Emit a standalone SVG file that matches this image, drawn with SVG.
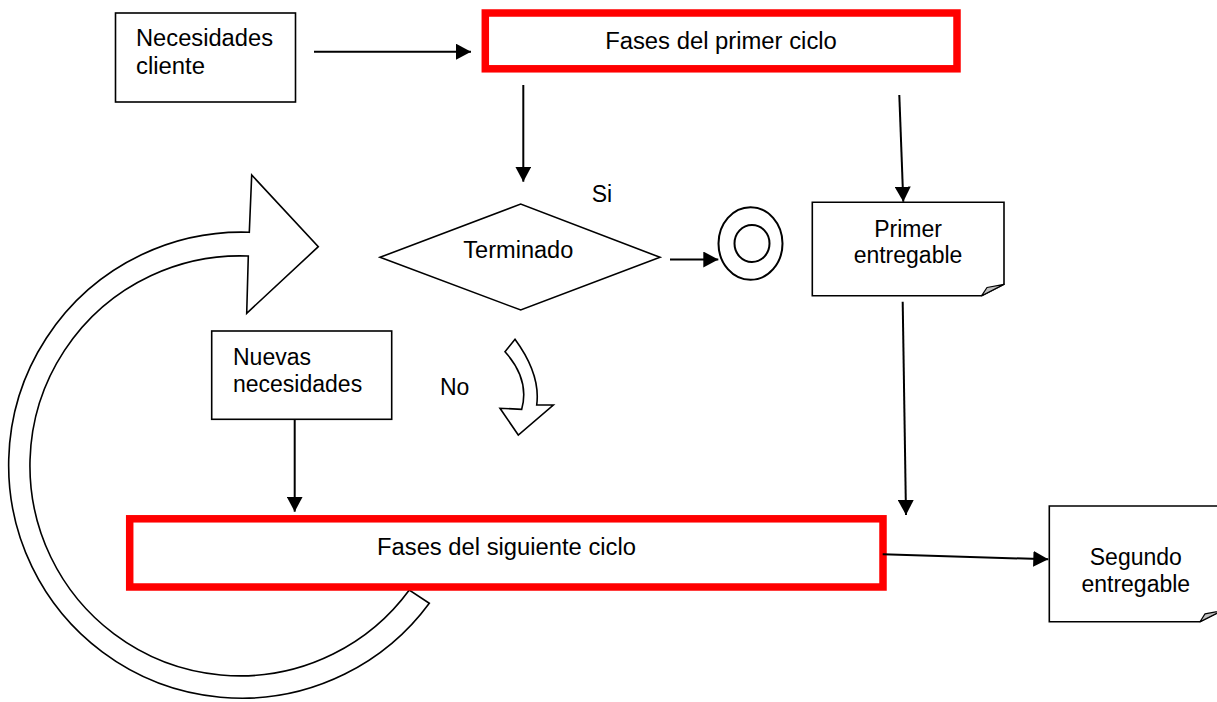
<svg xmlns="http://www.w3.org/2000/svg" width="1217" height="702" viewBox="0 0 1217 702">
  <style>
    .box { fill: #fff; stroke: #000; stroke-width: 1.6; }
    .phase { fill: #fff; stroke: #ff0000; stroke-width: 7.5; }
    .shape { fill: #fff; stroke: #000; stroke-width: 1.6; stroke-linejoin: miter; }
    .fold { fill: #c0c0c0; stroke: #000; stroke-width: 1.2; stroke-linejoin: round; }
    .txt { font-family: "Liberation Sans", Arial, sans-serif; font-size: 23px; fill: #000; }
    .mid { text-anchor: middle; }
    .conn line { stroke: #000; stroke-width: 2; marker-end: url(#head); }
  </style>
  <defs>
    <marker id="head" markerUnits="userSpaceOnUse" markerWidth="16" markerHeight="16" refX="15" refY="8" orient="auto">
      <path d="M0,0 L15,8 L0,16 Z" fill="#000"/>
    </marker>
  </defs>

  <rect width="1217" height="702" fill="#fff"/>

  <!-- loop arrow back to the start of the cycle -->
  <g id="loop-arrow">
    <path class="shape" stroke-width="1.4" d="M429.3,603.3 A233,233 0 1 1 249.3,232.3 L251.7,175 L318.3,246.7 L246.7,313.3 L248.3,256 A210,210 0 1 0 409.3,590 Z"/>
  </g>

  <g id="necesidades-cliente">
    <rect class="box" x="115.5" y="13" width="180" height="89"/>
    <text class="txt" x="136" y="45.7" textLength="137" lengthAdjust="spacingAndGlyphs">Necesidades</text>
    <text class="txt" x="136" y="74" textLength="69" lengthAdjust="spacingAndGlyphs">cliente</text>
  </g>

  <g id="fases-primer-ciclo">
    <rect class="phase" x="485.3" y="13" width="471.7" height="55.8"/>
    <text class="txt mid" x="721" y="49" textLength="231.7" lengthAdjust="spacingAndGlyphs">Fases del primer ciclo</text>
  </g>

  <g id="terminado">
    <polygon class="shape" points="380,257.3 520.7,204 660,257.3 520.7,310"/>
    <text class="txt mid" x="518.3" y="258.3" textLength="110" lengthAdjust="spacingAndGlyphs">Terminado</text>
  </g>

  <g id="label-si">
    <text class="txt" x="591.7" y="201.7">Si</text>
  </g>

  <g id="fin">
    <ellipse cx="750.5" cy="243.5" rx="32" ry="36.3" fill="#fff" stroke="#000" stroke-width="2"/>
    <ellipse cx="752" cy="243.5" rx="17.5" ry="18.5" fill="none" stroke="#000" stroke-width="2"/>
  </g>

  <g id="primer-entregable">
    <path class="shape" d="M812.3,202.3 H1004 V284.3 L981.7,295.7 H812.3 Z"/>
    <path class="fold" d="M981.7,295.7 L1004,284.3 L987,287.5 Z"/>
    <text class="txt mid" x="908" y="236.7">Primer</text>
    <text class="txt mid" x="908" y="262.5">entregable</text>
  </g>

  <g id="nuevas-necesidades">
    <rect class="box" x="211.7" y="331" width="180" height="88.3"/>
    <text class="txt" x="233" y="365">Nuevas</text>
    <text class="txt" x="233" y="391.7">necesidades</text>
  </g>

  <g id="label-no">
    <text class="txt" x="440" y="395">No</text>
    <path class="shape" stroke-width="1.8" d="M505,351.7 L515,339.3 Q540.8,374.5 536.7,405 L553.3,405 L518.3,435 L500,408.3 L521.7,409.3 Q530,379.5 505,351.7 Z"/>
  </g>

  <g id="fases-siguiente-ciclo">
    <rect class="phase" x="129.7" y="518.8" width="753.3" height="68.2"/>
    <text class="txt mid" x="506.5" y="555" textLength="259" lengthAdjust="spacingAndGlyphs">Fases del siguiente ciclo</text>
  </g>

  <g id="segundo-entregable">
    <path class="shape" d="M1049.3,506 H1222 V610.7 L1200,621.7 H1049.3 Z"/>
    <path class="fold" d="M1200,621.7 L1222,610.7 L1205,613.9 Z"/>
    <text class="txt mid" x="1135.8" y="565">Segundo</text>
    <text class="txt mid" x="1135.8" y="591.7">entregable</text>
  </g>

  <g id="connectors" class="conn">
    <line x1="314" y1="51.7" x2="471" y2="51.7"/>
    <line x1="523.3" y1="85" x2="523.3" y2="181.7"/>
    <line x1="899.3" y1="95" x2="903.3" y2="201.7"/>
    <line x1="670" y1="259.5" x2="718.3" y2="259.5"/>
    <line x1="294.7" y1="419.3" x2="294.7" y2="511.7"/>
    <line x1="902.7" y1="301.7" x2="906" y2="515"/>
    <line x1="882.7" y1="554.3" x2="1048.3" y2="559.3"/>
  </g>
</svg>
